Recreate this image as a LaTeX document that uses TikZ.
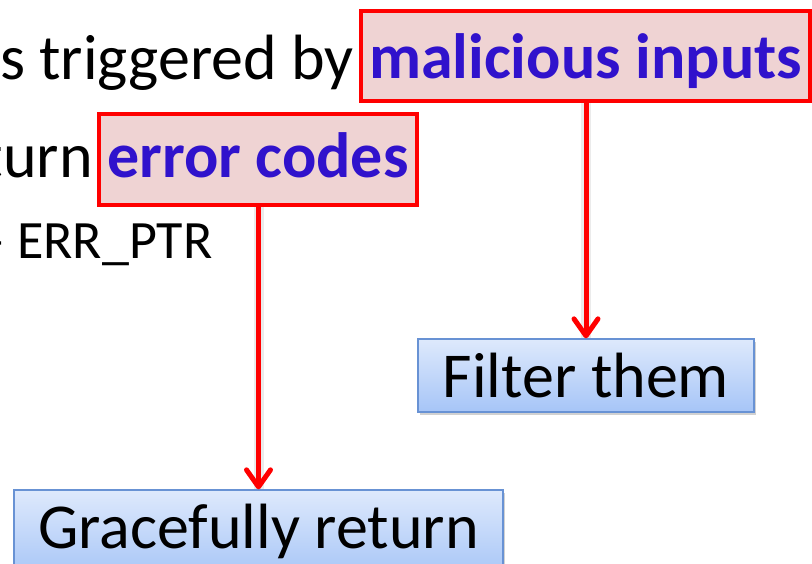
\documentclass[tikz,border=0pt]{standalone}
\usepackage{fontspec}
\setmainfont{Carlito}
\usetikzlibrary{arrows.meta,shadows}

\definecolor{hlred}{RGB}{255,0,0}
\definecolor{hlfill}{RGB}{239,211,211}
\definecolor{hlblue}{RGB}{48,18,204}
\definecolor{boxtop}{RGB}{222,233,252}
\definecolor{boxbot}{RGB}{166,197,247}
\definecolor{boxedge}{RGB}{104,146,212}

\tikzset{
  bigtext/.style={font=\fontsize{64}{72}\selectfont, inner sep=0pt},
  smalltext/.style={font=\fontsize{54}{62}\selectfont, inner sep=0pt},
  hlbox/.style={draw=hlred, line width=4.5pt, fill=hlfill, inner sep=0pt,
    text=hlblue, font=\fontsize{64}{72}\selectfont\bfseries, anchor=base},
  actionbox/.style={draw=boxedge, line width=1.3pt, top color=boxtop, bottom color=boxbot,
    inner sep=0pt, font=\fontsize{64}{72}\selectfont, anchor=base,
    drop shadow={shadow xshift=1.5pt, shadow yshift=-3pt, opacity=0.3, fill=black!60}},
  flow/.style={draw=hlred, line width=5pt,
    -{Straight Barb[length=17pt,width=24pt,line cap=round,line join=round]},
    preaction={draw=black, draw opacity=0.08, line width=10pt, -{}}}
}

\begin{document}
\begin{tikzpicture}[x=1pt,y=-1pt]
\useasboundingbox (0,0) rectangle (812,563);
\clip (0,0) rectangle (812,563);

% running slide text
\node[bigtext, anchor=base east] (l1) at (354,79) {s triggered by};
\node[bigtext, anchor=base east] (l2) at (93,177) {turn};
\node[smalltext, anchor=base west] (l3) at (-22,258) {– ERR\_PTR};

% highlighted phrases
\node[hlbox, minimum width=449pt, text height=67pt, text depth=23pt] (mal) at (585.5,78) {malicious inputs};
\node[hlbox, minimum width=318pt, text height=63pt, text depth=28pt] (err) at (258,177) {error codes};

% responses
\node[actionbox, minimum width=336pt, text height=58pt, text depth=15pt] (fil) at (586,397) {Filter them};
\node[actionbox, minimum width=489pt, text height=58pt, text depth=30pt] (gra) at (258.5,548) {Gracefully return};

% connectors
\draw[flow] (mal.south -| fil.north) -- (fil.north);
\draw[flow] (err.south -| gra.north) -- (gra.north);
\end{tikzpicture}
\end{document}
